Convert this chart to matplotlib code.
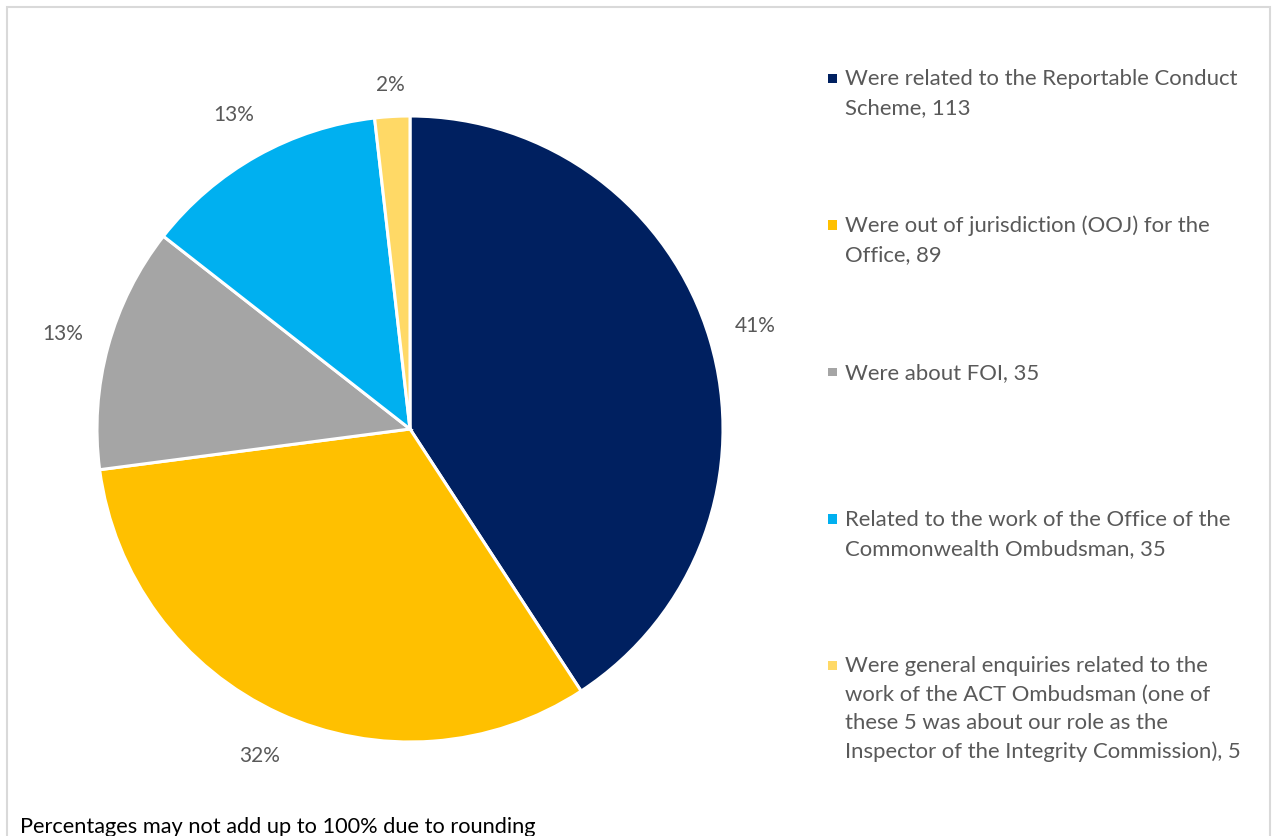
import matplotlib
matplotlib.use("Agg")
import matplotlib.pyplot as plt
from matplotlib.patches import Rectangle

# Enquiry categories and counts
categories = [
    "Were related to the Reportable Conduct\nScheme",
    "Were out of jurisdiction (OOJ) for the\nOffice",
    "Were about FOI",
    "Related to the work of the Office of the\nCommonwealth Ombudsman",
    "Were general enquiries related to the\nwork of the ACT Ombudsman (one of\nthese 5 was about our role as the\nInspector of the Integrity Commission)",
]
counts = [113, 89, 35, 35, 5]
colors = ["#002060", "#FFC000", "#A5A5A5", "#00B0F0", "#FFD966"]
footnote = "Percentages may not add up to 100% due to rounding"

W, H = 1272, 836
plt.rcParams["font.family"] = ["Lato", "DejaVu Sans"]
fig = plt.figure(figsize=(W / 100, H / 100), dpi=100)


def fx(px):
    return px / W


def fy(py):
    return 1 - py / H


# light frame around the chart area
fig.patches.append(Rectangle((fx(7), fy(900)), fx(1270) - fx(7), fy(7) - fy(900),
                             transform=fig.transFigure, fill=False,
                             edgecolor="#D9D9D9", linewidth=1.5, zorder=0))

# pie axes: radius 1 maps to ~313 px, centred at (410, 429)
S = 2.6 * 313
ax = fig.add_axes([fx(410 - S / 2), fy(429 + S / 2), S / W, S / H])

wedges, texts, autotexts = ax.pie(
    counts, colors=colors, startangle=90, counterclock=False,
    radius=1.0, autopct=lambda p: f"{p:.0f}%", pctdistance=1.15,
    wedgeprops=dict(edgecolor="white", linewidth=2.2),
    textprops=dict(color="#595959", fontsize=15),
)
ax.set_xlim(-1.3, 1.3)
ax.set_ylim(-1.3, 1.3)
ax.set_aspect("equal")
ax.axis("off")

# small slice label sits closer to the rim
x, y = autotexts[-1].get_position()
autotexts[-1].set_position((x * 1.10 / 1.15, y * 1.10 / 1.15))

# legend on the right
entry_tops = [78, 225, 372, 519, 665]
line_step = 28.6
for cat, n, col, ty in zip(categories, counts, colors, entry_tops):
    fig.patches.append(Rectangle((fx(828), fy(ty + 4.5)),
                                 fx(837) - fx(828), fy(ty - 4.5) - fy(ty + 4.5),
                                 transform=fig.transFigure, facecolor=col,
                                 edgecolor="none"))
    for i, line in enumerate(f"{cat}, {n}".split("\n")):
        fig.text(fx(845), fy(ty + 7 + i * line_step), line, ha="left",
                 va="baseline", fontsize=15.9, color="#595959")

fig.text(fx(20), fy(833), footnote, ha="left", va="baseline", fontsize=15.7,
         color="#000000")

fig.savefig("out.png", dpi=100)
